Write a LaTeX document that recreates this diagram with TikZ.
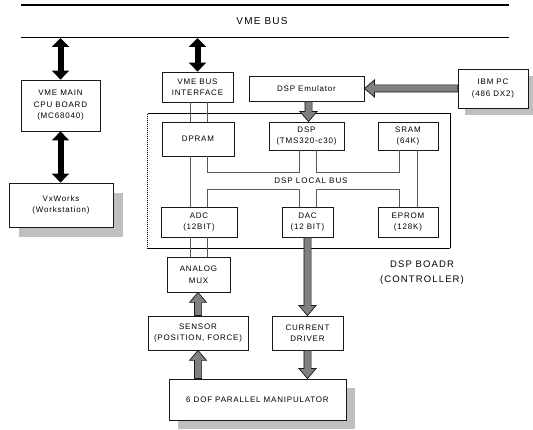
\documentclass[tikz,border=0pt]{standalone}
\usepackage{fontspec}
\setmainfont{Liberation Sans}
\newfontfamily\boxfont[LetterSpace=10]{Liberation Sans}
\newfontfamily\bigfont[LetterSpace=12]{Liberation Sans}
\usetikzlibrary{calc,arrows.meta,backgrounds}
\begin{document}
\begin{tikzpicture}[x=1pt,y=-1pt,
  box/.style={draw=black!90, line width=0.8pt, fill=white, inner sep=0pt, align=center,
    font={\fontsize{8}{11.5}\selectfont\boxfont}},
  bus/.style={draw=black!65, line width=0.8pt},
  blk/.style={line width=6pt, {Triangle[length=9pt,width=17pt]}-{Triangle[length=9pt,width=17pt]}},
  garrow/.style={fill=black!50, draw=black!90, line width=0.7pt, line join=miter},
  shadowc/.style={fill=black!25},
  lbl/.style={inner sep=0pt, align=center, font={\fontsize{8}{11.5}\selectfont\bigfont}},
  biglbl/.style={inner sep=0pt, align=center, font={\fontsize{9.5}{15}\selectfont\bigfont}},
  fat/.style={to path={
    ($(\tikztostart)!3.6pt!90:(\tikztotarget)$) --
    ($(\tikztotarget)!10pt!(\tikztostart)!3.6pt!-90:(\tikztostart)$) --
    ($(\tikztotarget)!10pt!(\tikztostart)!8.5pt!-90:(\tikztostart)$) --
    (\tikztotarget) --
    ($(\tikztotarget)!10pt!(\tikztostart)!8.5pt!90:(\tikztostart)$) --
    ($(\tikztotarget)!10pt!(\tikztostart)!3.6pt!90:(\tikztostart)$) --
    ($(\tikztostart)!3.6pt!-90:(\tikztotarget)$) -- cycle}}
]
\useasboundingbox (0,0) rectangle (533,430);

% VME bus
\coordinate (b1) at (21,5);
\coordinate (b2) at (509,5);
\coordinate (b3) at (21,38);
\coordinate (b4) at (509,38);
\draw[line width=1.7pt] (b1) -- (b2);
\draw[line width=1pt] (b3) -- (b4);
\node[inner sep=0pt, font={\fontsize{10}{12}\selectfont\bigfont}] (vmebus) at (262,21) {VME BUS};

% DSP board outline
\node[inner sep=0pt, minimum width=302pt, minimum height=134pt] (board) at (299,181) {};
\draw[line width=0.8pt] (board.south east) -- (board.north east) -- (board.north west);
\draw[line width=0.8pt, dash pattern=on 1.2pt off 0.8pt] (board.north west) -- (board.south west) -- (board.south east);

% boxes
\node[box, minimum width=79pt, minimum height=51pt] (cpu) at (60.5,105.5) {VME MAIN\\CPU BOARD\\(MC68040)};
\node[box, minimum width=104pt, minimum height=44pt] (vx) at (61,205) {VxWorks\\(Workstation)};
\node[box, minimum width=71pt, minimum height=30pt] (vbi) at (197.5,87) {VME BUS\\INTERFACE};
\node[box, minimum width=115pt, minimum height=25pt] (emu) at (306.5,88.5) {DSP Emulator};
\node[box, minimum width=70pt, minimum height=39pt] (ibm) at (493,88.5) {IBM PC\\(486 DX2)};
\node[box, minimum width=72pt, minimum height=34pt] (dpram) at (198,139) {DPRAM};
\node[box, minimum width=75pt, minimum height=28pt] (dsp) at (306.5,136) {DSP\\(TMS320-c30)};
\node[box, minimum width=60pt, minimum height=28pt] (sram) at (408,136) {SRAM\\(64K)};
\node[box, minimum width=76pt, minimum height=30pt] (adc) at (199,222) {ADC\\(12BIT)};
\node[box, minimum width=51pt, minimum height=30pt] (dac) at (307.5,222) {DAC\\(12 BIT)};
\node[box, minimum width=60pt, minimum height=30pt] (eprom) at (408,222) {EPROM\\(128K)};
\node[box, minimum width=63pt, minimum height=35pt] (mux) at (198.5,274.5) {ANALOG\\MUX};
\node[box, minimum width=100pt, minimum height=34pt] (sen) at (198,333) {SENSOR\\(POSITION, FORCE)};
\node[box, minimum width=71pt, minimum height=34pt] (cur) at (307.5,333) {CURRENT\\DRIVER};
\node[box, minimum width=177pt, minimum height=41pt] (man) at (257.5,399.5) {6 DOF PARALLEL MANIPULATOR};

% shadows
\begin{scope}[on background layer]
  \fill[shadowc] ($(vx.south west)+(10,10)$) rectangle ($(vx.north east)+(10,10)$);
  \fill[shadowc] ($(ibm.south west)+(7,7)$) rectangle ($(ibm.north east)+(7,7)$);
  \fill[shadowc] ($(man.south west)+(9,9)$) rectangle ($(man.north east)+(9,9)$);
\end{scope}

% labels
\node[lbl] (localbus) at (311,181) {DSP LOCAL BUS};
\node[biglbl] (boardlbl) at (422,272.5) {DSP BOADR\\(CONTROLLER)};

% local bus lines
\coordinate (la) at (190,0);
\coordinate (lb) at (207,0);
\coordinate (lc) at (299,0);
\coordinate (ld) at (316,0);
\coordinate (le) at (399,0);
\coordinate (lf) at (417,0);
\coordinate (yu) at (0,172);
\coordinate (yl) at (0,189);
\draw[bus] (la |- vbi.south) -- (la |- dpram.north);
\draw[bus] (lb |- vbi.south) -- (lb |- dpram.north);
\draw[bus] (la |- dpram.south) -- (la |- adc.north);
\draw[bus] (lb |- dpram.south) -- (lb |- yu) -- (lc |- yu) -- (lc |- dsp.south);
\draw[bus] (ld |- dsp.south) -- (ld |- yu) -- (le |- yu) -- (le |- sram.south);
\draw[bus] (lf |- sram.south) -- (lf |- eprom.north);
\draw[bus] (lb |- adc.north) -- (lb |- yl) -- (lc |- yl) -- (lc |- dac.north);
\draw[bus] (ld |- dac.north) -- (ld |- yl) -- (le |- yl) -- (le |- eprom.north);
\draw[bus] (la |- adc.south) -- (la |- mux.north);
\draw[bus] (lb |- adc.south) -- (lb |- mux.north);

% black bidirectional arrows
\draw[blk] (cpu.north |- b3) -- (cpu.north);
\draw[blk] (vbi.north |- b3) -- (vbi.north);
\draw[blk] (cpu.south) -- (cpu.south |- vx.north);

% gray arrows
\coordinate (dspin) at (308.5,0);
\draw[garrow] (ibm.west) to[fat] (emu.east);
\draw[garrow] (dspin |- emu.south) to[fat] (dspin |- dsp.north);
\draw[garrow] (dac.south) to[fat] (cur.north);
\draw[garrow] (cur.south) to[fat] (cur.south |- man.north);
\draw[garrow] (sen.north) to[fat] (sen.north |- mux.south);
\draw[garrow] (sen.south |- man.north) to[fat] (sen.south);
\end{tikzpicture}
\end{document}
